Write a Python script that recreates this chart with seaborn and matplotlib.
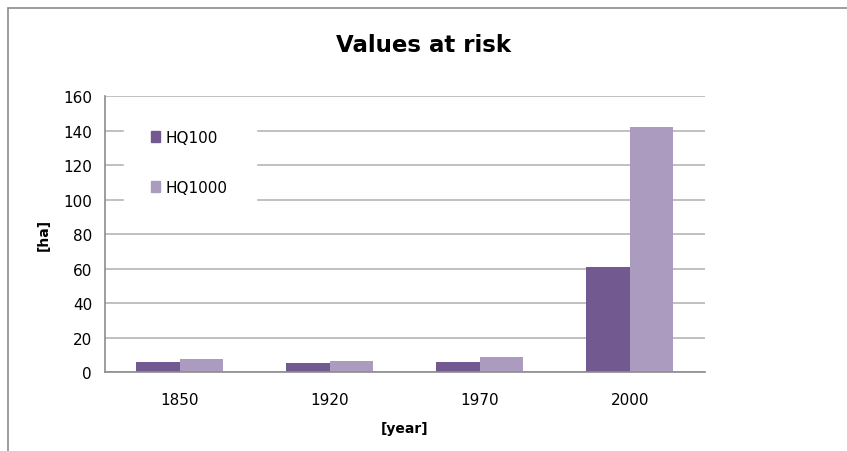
import pandas as pd
import seaborn as sns
import matplotlib.pyplot as plt
from matplotlib.lines import Line2D

# datos
years = ["1850", "1920", "1970", "2000"]
hq100 = [5.8, 5.2, 5.8, 60.8]
hq1000 = [7.6, 6.4, 8.7, 142.0]
series = ["HQ100", "HQ1000"]
colors = ["#72598f", "#aa9bbf"]

df = pd.DataFrame({
    "year": years * 2,
    "value": hq100 + hq1000,
    "serie": [series[0]] * 4 + [series[1]] * 4,
})

sns.set_style("white")
plt.rcParams["font.family"] = ["DejaVu Sans"]
plt.rcParams["text.color"] = "black"
plt.rcParams["axes.labelcolor"] = "black"
plt.rcParams["xtick.labelcolor"] = "black"
plt.rcParams["ytick.labelcolor"] = "black"

fig = plt.figure(figsize=(8.47, 4.52), dpi=100)
ax = fig.add_axes([0.1235, 0.174, 0.7085, 0.611])

sns.barplot(data=df, x="year", y="value", hue="serie", order=years,
            hue_order=series, palette=colors, width=0.58, gap=0,
            saturation=1, edgecolor="none", ax=ax, zorder=3)

# ejes y cuadrícula
ax.set_ylim(0, 160)
ax.set_yticks(range(0, 161, 20))
ax.set_xlim(-0.5, 3.5)
ax.set_xticks([-0.5, 0.5, 1.5, 2.5, 3.5])
ax.set_xticklabels([])
ax.set_xticks(range(4), labels=years, minor=True)
ax.tick_params(axis="x", which="minor", length=0, labelsize=11, pad=14)
ax.tick_params(axis="x", which="major", length=5, color="#8c8c8c", direction="out")
ax.tick_params(axis="y", length=5, color="#8c8c8c", direction="out", labelsize=11, pad=4)
ax.yaxis.grid(True, color="#b5b5b5", linewidth=1.2, zorder=0)
ax.set_axisbelow(True)
for s in ["top", "right"]:
    ax.spines[s].set_visible(False)
for s in ["left", "bottom"]:
    ax.spines[s].set_color("#8c8c8c")
    ax.spines[s].set_linewidth(1.2)
ax.spines["bottom"].set_zorder(4)

ax.set_xlabel("[year]", fontsize=10, fontweight="bold", labelpad=10)
ax.set_ylabel("[ha]", fontsize=10, fontweight="bold", labelpad=9)

# leyenda
handles = [plt.Rectangle((0, 0), 1, 1, color=c) for c in colors]
leg = ax.legend(handles, series, loc="upper left",
                bbox_to_anchor=(0.032, 0.975, 0.22, 0.0), mode="expand",
                fontsize=11, frameon=True, fancybox=False,
                handlelength=0.65, handleheight=0.65, handletextpad=0.35,
                labelspacing=2.3, borderpad=1.75, borderaxespad=0)
leg.get_frame().set_facecolor("white")
leg.get_frame().set_edgecolor("white")
leg.get_frame().set_alpha(1)
leg.set_zorder(5)

fig.text(0.5, 0.9, "Values at risk", ha="center", va="center",
         fontsize=16.5, fontweight="bold")

# borde exterior
fig.add_artist(Line2D([8 / 847, 8 / 847], [0, 1 - 9 / 452], color="#8c8c8c", lw=1.2))
fig.add_artist(Line2D([8 / 847, 1], [1 - 9 / 452, 1 - 9 / 452], color="#8c8c8c", lw=1.2))

fig.savefig("out.png", dpi=100)
